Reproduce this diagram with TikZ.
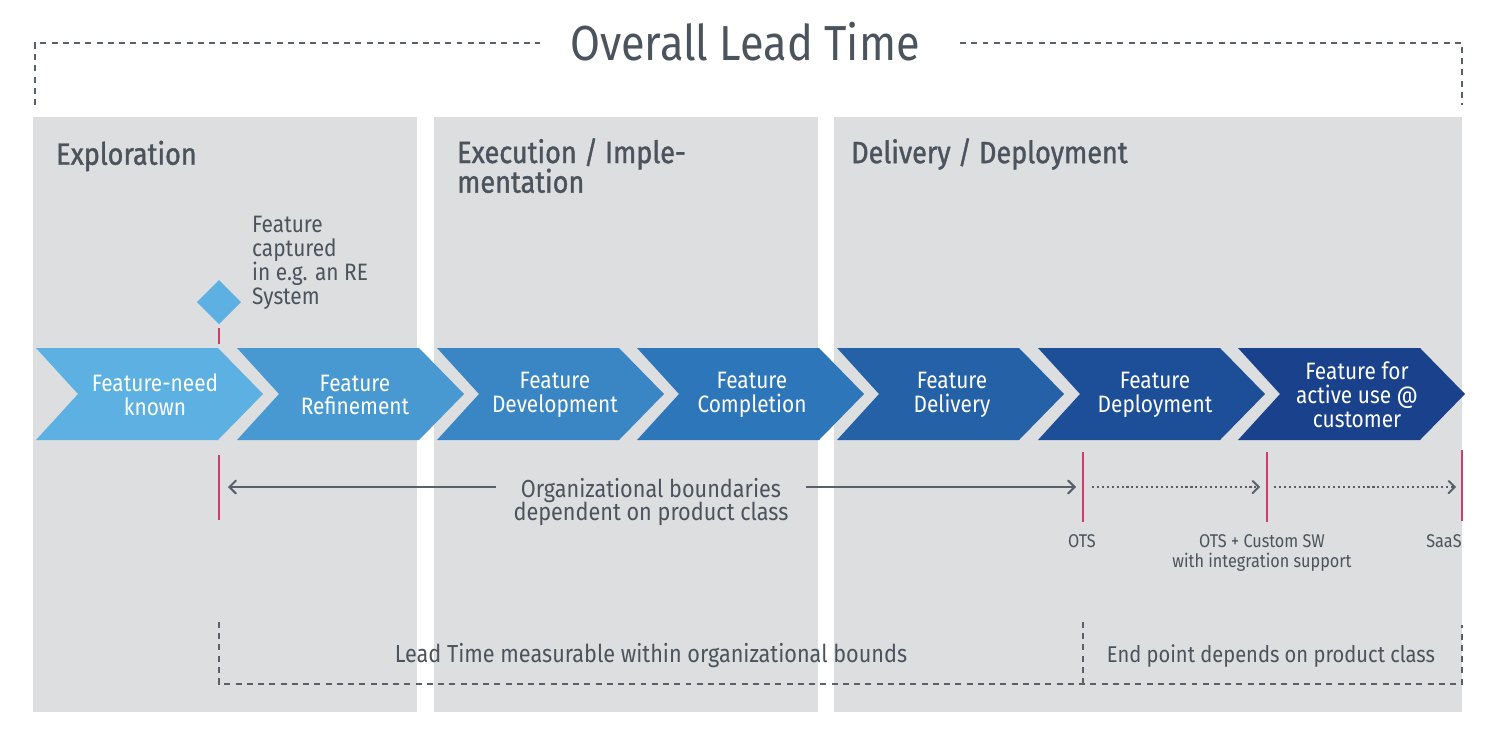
\documentclass[tikz,border=0pt]{standalone}
\usepackage{fontspec}
\setmainfont{Fira Sans}[FakeStretch=0.88]
\newfontfamily\phasefont{Fira Sans}[FakeStretch=0.88, FakeBold=1.2]
\usetikzlibrary{arrows}
\usetikzlibrary{positioning}
\usepackage{xcolor}

\definecolor{panelgray}{HTML}{DDDEE0}
\definecolor{textgray}{HTML}{4B535D}
\definecolor{linegray}{HTML}{5A6069}
\definecolor{markred}{HTML}{D23A6B}
\definecolor{cone}{HTML}{5CB0E2}
\definecolor{ctwo}{HTML}{4899D1}
\definecolor{cthree}{HTML}{3A86C5}
\definecolor{cfour}{HTML}{2E76BA}
\definecolor{cfive}{HTML}{2461A6}
\definecolor{csix}{HTML}{1D4F98}
\definecolor{cseven}{HTML}{1A428C}

\tikzset{
  chevtext/.style={text=white, align=center, font=\fontsize{13.5}{13.6}\selectfont},
  phasetitle/.style={text=textgray, align=left, font=\phasefont\fontsize{17.5}{16.4}\selectfont},
  bracket/.style={draw=linegray, line width=1.1pt, dash pattern=on 3.4pt off 3pt},
  marker/.style={draw=markred, line width=0.9pt},
  orgline/.style={draw=linegray, line width=1.2pt, >=angle 90},
  dotline/.style={draw=linegray, line width=1.1pt, dash pattern=on 1.2pt off 1.6pt, >=angle 90},
  smalltext/.style={text=textgray, align=center, font=\fontsize{10.5}{11.3}\selectfont},
}

\begin{document}
\begin{tikzpicture}[x=0.02cm,y=-0.02cm]
  \useasboundingbox[fill=white] (0,0) rectangle (1500,747);

  % phase panels
  \fill[panelgray] (33,117) rectangle (417,712);
  \fill[panelgray] (434,117) rectangle (818,712);
  \fill[panelgray] (834,117) rectangle (1462,712);
  \node[phasetitle, anchor=west] (explo) at (50,156) {Exploration};
  \node[phasetitle, anchor=north west] (execu) at (451,132) {Execution / Imple-\\[-1.5pt]mentation};
  \node[phasetitle, anchor=west] (deliv) at (845,154) {Delivery / Deployment};

  % overall lead time
  \node[text=textgray, font=\fontsize{28}{28}\selectfont] (overall) at (745,42) {Overall Lead Time};
  \coordinate (olA) at (35,105);
  \coordinate (olB) at (540,43);
  \coordinate (olC) at (960,43);
  \coordinate (olD) at (1462,105);
  \draw[bracket] (olA) |- (olB);
  \draw[bracket] (olC) -| (olD);

  % chevrons
  \fill[cone] (36,348) -- ++(182,0) -- ++(45,46) -- ++(-45,46) -- ++(-182,0) -- ++(42,-46) -- cycle;
  \fill[ctwo] (237,348) -- ++(182,0) -- ++(45,46) -- ++(-45,46) -- ++(-182,0) -- ++(42,-46) -- cycle;
  \fill[cthree] (437,348) -- ++(182,0) -- ++(45,46) -- ++(-45,46) -- ++(-182,0) -- ++(42,-46) -- cycle;
  \fill[cfour] (637,348) -- ++(182,0) -- ++(45,46) -- ++(-45,46) -- ++(-182,0) -- ++(42,-46) -- cycle;
  \fill[cfive] (837,348) -- ++(182,0) -- ++(45,46) -- ++(-45,46) -- ++(-182,0) -- ++(42,-46) -- cycle;
  \fill[csix] (1038,348) -- ++(182,0) -- ++(45,46) -- ++(-45,46) -- ++(-182,0) -- ++(42,-46) -- cycle;
  \fill[cseven] (1238,348) -- ++(182,0) -- ++(45,46) -- ++(-45,46) -- ++(-182,0) -- ++(42,-46) -- cycle;
  \node[chevtext] (need) at (155,395) {Feature-need\\known};
  \node[chevtext] (refine) at (355,395) {Feature\\Refinement};
  \node[chevtext] (develop) at (555,395) {Feature\\Development};
  \node[chevtext] (complete) at (752,395) {Feature\\Completion};
  \node[chevtext] (delivery) at (952,395) {Feature\\Delivery};
  \node[chevtext] (deploy) at (1155,395) {Feature\\Deployment};
  \node[chevtext] (active) at (1357,395) {Feature for\\active use @\\customer};

  % captured in RE system
  \fill[cone] (219,280) -- (241,302) -- (219,324) -- (197,302) -- cycle;
  \coordinate (capA) at (219,328);
  \coordinate (capB) at (219,344);
  \draw[marker] (capA) -- (capB);
  \node[text=textgray, align=left, anchor=west, font=\fontsize{13.5}{13.6}\selectfont] (captured) at (246,263)
    {Feature\\captured\\in e.g. an RE\\System};

  % product class markers
  \coordinate (mzeroT) at (219,455);
  \coordinate (mzeroB) at (219,520);
  \coordinate (mots) at (1083,452);
  \coordinate (motsB) at (1083,522);
  \coordinate (mcust) at (1267,452);
  \coordinate (mcustB) at (1267,522);
  \coordinate (msaas) at (1462,450);
  \coordinate (msaasB) at (1462,521);
  \draw[marker] (mzeroT) -- (mzeroB);
  \draw[marker] (mots) -- (motsB);
  \draw[marker] (mcust) -- (mcustB);
  \draw[marker] (msaas) -- (msaasB);

  \node[text=textgray, align=center, inner xsep=10pt, font=\fontsize{14}{13.6}\selectfont] (org) at (651,502)
    {Organizational boundaries\\dependent on product class};
  \coordinate (aleft) at (228,487);
  \coordinate (aright) at (1076,487);
  \draw[orgline, ->] (aright -| org.east) -- (aright);
  \draw[orgline, ->] (aleft -| org.west) -- (aleft);
  \coordinate (dA) at (1092,487);
  \coordinate (dB) at (1260,487);
  \coordinate (dC) at (1274,487);
  \coordinate (dD) at (1456,487);
  \draw[dotline, ->] (dA) -- (dB);
  \draw[dotline, ->] (dC) -- (dD);

  \node[smalltext] (ots) at (1082,541) {OTS};
  \node[smalltext, anchor=north] (custom) at (1262,528) {OTS + Custom SW\\with integration support};
  \node[smalltext, anchor=east, inner xsep=0pt] (saas) at (1462,541) {SaaS};

  % lead time within organizational bounds
  \coordinate (lbA) at (219,622);
  \coordinate (lbB) at (1462,625);
  \coordinate (lbM) at (1083,622);
  \coordinate (lbMB) at (1083,684);
  \draw[bracket] (lbA) |- (lbB |- lbMB) -- (lbB);
  \draw[bracket, line width=0.6pt] (lbM) -- (lbMB);
  \node[text=textgray, font=\fontsize{14}{14}\selectfont] (within) at (651,656) {Lead Time measurable within organizational bounds};
  \node[text=textgray, font=\fontsize{13}{13}\selectfont] (endpoint) at (1271,656) {End point depends on product class};
\end{tikzpicture}
\end{document}
